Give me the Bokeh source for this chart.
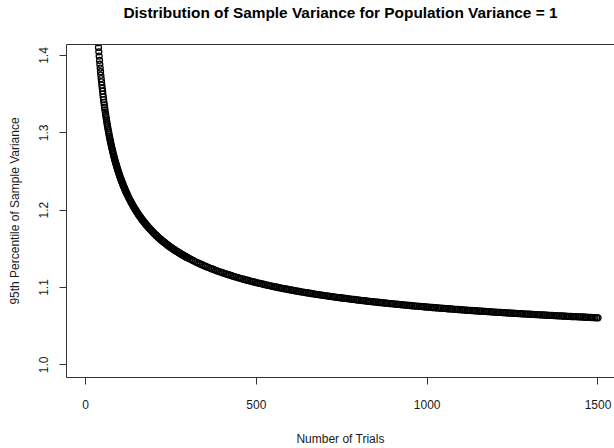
from bokeh.plotting import figure
from bokeh.models import (Range1d, FixedTicker, LinearAxis, Title,
                          BasicTickFormatter, NumeralTickFormatter, ColumnDataSource)
from bokeh.embed import file_html
from bokeh.resources import INLINE

# ---- data ----
# trials 36..120 (every trial), 95th percentile of sample variance
steep_trials = list(range(36, 121))
steep_p95 = [
    1.4227, 1.4165, 1.4105, 1.4047, 1.3992, 1.3938, 1.3887, 1.3838, 1.3790, 1.3745,
    1.3700, 1.3658, 1.3616, 1.3576, 1.3538, 1.3500, 1.3464, 1.3429, 1.3394, 1.3361,
    1.3329, 1.3297, 1.3267, 1.3237, 1.3208, 1.3180, 1.3152, 1.3125, 1.3099, 1.3074,
    1.3049, 1.3025, 1.3001, 1.2978, 1.2955, 1.2933, 1.2911, 1.2890, 1.2869, 1.2848,
    1.2829, 1.2809, 1.2790, 1.2771, 1.2753, 1.2735, 1.2717, 1.2700, 1.2682, 1.2666,
    1.2649, 1.2633, 1.2617, 1.2602, 1.2586, 1.2571, 1.2557, 1.2542, 1.2528, 1.2514,
    1.2500, 1.2486, 1.2473, 1.2460, 1.2447, 1.2434, 1.2421, 1.2409, 1.2397, 1.2385,
    1.2373, 1.2361, 1.2350, 1.2338, 1.2327, 1.2316, 1.2305, 1.2295, 1.2284, 1.2274,
    1.2263, 1.2253, 1.2243, 1.2233, 1.2223,
]
# trials 121..299 (every second trial)
mid_trials = list(range(121, 300, 2))
mid_p95 = [
    1.2214, 1.2195, 1.2176, 1.2158, 1.2141, 1.2124, 1.2107, 1.2091, 1.2075, 1.2059,
    1.2044, 1.2029, 1.2014, 1.2000, 1.1986, 1.1972, 1.1958, 1.1945, 1.1932, 1.1920,
    1.1907, 1.1895, 1.1883, 1.1871, 1.1860, 1.1848, 1.1837, 1.1826, 1.1816, 1.1805,
    1.1795, 1.1784, 1.1774, 1.1765, 1.1755, 1.1745, 1.1736, 1.1727, 1.1717, 1.1709,
    1.1700, 1.1691, 1.1682, 1.1674, 1.1666, 1.1657, 1.1649, 1.1641, 1.1634, 1.1626,
    1.1618, 1.1611, 1.1603, 1.1596, 1.1589, 1.1582, 1.1575, 1.1568, 1.1561, 1.1554,
    1.1547, 1.1541, 1.1534, 1.1528, 1.1522, 1.1515, 1.1509, 1.1503, 1.1497, 1.1491,
    1.1485, 1.1479, 1.1473, 1.1468, 1.1462, 1.1457, 1.1451, 1.1446, 1.1440, 1.1435,
    1.1430, 1.1424, 1.1419, 1.1414, 1.1409, 1.1404, 1.1399, 1.1394, 1.1389, 1.1385,
]
# trials 301..1496 (every fifth trial) and 1500
tail_trials = list(range(301, 1497, 5)) + [1500]
tail_p95 = [
    1.1380, 1.1368, 1.1357, 1.1346, 1.1335, 1.1324, 1.1314, 1.1304, 1.1294, 1.1284,
    1.1275, 1.1266, 1.1257, 1.1248, 1.1239, 1.1231, 1.1222, 1.1214, 1.1206, 1.1199,
    1.1191, 1.1183, 1.1176, 1.1169, 1.1162, 1.1155, 1.1148, 1.1141, 1.1134, 1.1128,
    1.1121, 1.1115, 1.1109, 1.1103, 1.1097, 1.1091, 1.1085, 1.1079, 1.1074, 1.1068,
    1.1063, 1.1057, 1.1052, 1.1047, 1.1042, 1.1036, 1.1031, 1.1027, 1.1022, 1.1017,
    1.1012, 1.1007, 1.1003, 1.0998, 1.0994, 1.0989, 1.0985, 1.0981, 1.0977, 1.0972,
    1.0968, 1.0964, 1.0960, 1.0956, 1.0952, 1.0948, 1.0944, 1.0941, 1.0937, 1.0933,
    1.0930, 1.0926, 1.0922, 1.0919, 1.0915, 1.0912, 1.0908, 1.0905, 1.0902, 1.0898,
    1.0895, 1.0892, 1.0889, 1.0886, 1.0882, 1.0879, 1.0876, 1.0873, 1.0870, 1.0867,
    1.0864, 1.0861, 1.0859, 1.0856, 1.0853, 1.0850, 1.0847, 1.0845, 1.0842, 1.0839,
    1.0836, 1.0834, 1.0831, 1.0829, 1.0826, 1.0823, 1.0821, 1.0818, 1.0816, 1.0813,
    1.0811, 1.0809, 1.0806, 1.0804, 1.0802, 1.0799, 1.0797, 1.0795, 1.0792, 1.0790,
    1.0788, 1.0786, 1.0783, 1.0781, 1.0779, 1.0777, 1.0775, 1.0773, 1.0771, 1.0769,
    1.0767, 1.0764, 1.0762, 1.0760, 1.0758, 1.0756, 1.0755, 1.0753, 1.0751, 1.0749,
    1.0747, 1.0745, 1.0743, 1.0741, 1.0739, 1.0738, 1.0736, 1.0734, 1.0732, 1.0730,
    1.0729, 1.0727, 1.0725, 1.0723, 1.0722, 1.0720, 1.0718, 1.0717, 1.0715, 1.0713,
    1.0712, 1.0710, 1.0708, 1.0707, 1.0705, 1.0704, 1.0702, 1.0700, 1.0699, 1.0697,
    1.0696, 1.0694, 1.0693, 1.0691, 1.0690, 1.0688, 1.0687, 1.0685, 1.0684, 1.0682,
    1.0681, 1.0679, 1.0678, 1.0677, 1.0675, 1.0674, 1.0672, 1.0671, 1.0670, 1.0668,
    1.0667, 1.0666, 1.0664, 1.0663, 1.0662, 1.0660, 1.0659, 1.0658, 1.0656, 1.0655,
    1.0654, 1.0653, 1.0651, 1.0650, 1.0649, 1.0648, 1.0646, 1.0645, 1.0644, 1.0643,
    1.0641, 1.0640, 1.0639, 1.0638, 1.0637, 1.0636, 1.0634, 1.0633, 1.0632, 1.0631,
    1.0630, 1.0629, 1.0627, 1.0626, 1.0625, 1.0624, 1.0623, 1.0622, 1.0621, 1.0620,
    1.0619, 1.0618, 1.0617, 1.0615, 1.0614, 1.0613, 1.0612, 1.0611, 1.0610, 1.0609,
    1.0608,
]

x_ticks = [0, 500, 1000, 1500]
y_ticks = [1.0, 1.1, 1.2, 1.3, 1.4]

title_text = "Distribution of Sample Variance for Population Variance = 1"
x_label = "Number of Trials"
y_label = "95th Percentile of Sample Variance"

assert len(steep_trials) == len(steep_p95)
assert len(mid_trials) == len(mid_p95)
assert len(tail_trials) == len(tail_p95)

FONT = "Liberation Sans"
INK = "#1a1a1a"
LINE = "#333333"
FRAME_W, FRAME_H = 548, 333

src = ColumnDataSource(dict(
    trials=steep_trials + mid_trials + tail_trials,
    p95=steep_p95 + mid_p95 + tail_p95,
))

p = figure(
    frame_width=FRAME_W, frame_height=FRAME_H,
    x_range=Range1d(-55.6, 1548.3), y_range=Range1d(0.98358, 1.41423),
    output_backend="svg", toolbar_location=None, title=None,
    min_border_left=66, min_border_right=0, min_border_top=44, min_border_bottom=71,
    background_fill_color="white", border_fill_color="white",
)
p.outline_line_color = None
p.xgrid.grid_line_color = None
p.ygrid.grid_line_color = None

p.scatter(x="trials", y="p95", source=src, marker="circle", size=6,
          fill_color=None, line_color="black", line_width=1.3)

# bottom axis
xa = p.xaxis[0]
xa.ticker = FixedTicker(ticks=x_ticks)
xa.formatter = BasicTickFormatter(precision=0)
xa.axis_label = x_label
xa.axis_line_color = LINE
xa.major_tick_line_color = LINE
xa.major_tick_out = 7
xa.major_tick_in = 0
xa.minor_tick_line_color = None
xa.major_label_standoff = 15
xa.major_label_text_font = FONT
xa.major_label_text_font_size = "12px"
xa.major_label_text_color = INK
xa.axis_label_standoff = 20
xa.axis_label_text_font = FONT
xa.axis_label_text_font_size = "12px"
xa.axis_label_text_font_style = "normal"
xa.axis_label_text_color = INK

# left axis
ya = p.yaxis[0]
ya.ticker = FixedTicker(ticks=y_ticks)
ya.formatter = NumeralTickFormatter(format="0.0")
ya.axis_label = y_label
ya.axis_line_color = LINE
ya.major_tick_line_color = LINE
ya.major_tick_out = 7
ya.major_tick_in = 0
ya.minor_tick_line_color = None
ya.major_label_orientation = "vertical"
ya.major_label_standoff = 11
ya.major_label_text_font = FONT
ya.major_label_text_font_size = "12px"
ya.major_label_text_color = INK
ya.axis_label_standoff = 15
ya.axis_label_text_font = FONT
ya.axis_label_text_font_size = "12px"
ya.axis_label_text_font_style = "normal"
ya.axis_label_text_color = INK

# top border of the box: an axis without ticks; a blank axis label
# reserves the gap between the box and the title
top = LinearAxis(ticker=FixedTicker(ticks=[]), axis_line_color=LINE,
                 major_tick_line_color=None, minor_tick_line_color=None,
                 major_tick_out=0, minor_tick_out=0, major_tick_in=0,
                 major_label_standoff=0, major_label_text_font_size="0px",
                 axis_label=" ", axis_label_text_font=FONT,
                 axis_label_text_font_size="12px", axis_label_standoff=7)
p.add_layout(top, "above")

p.add_layout(Title(text=title_text, align="center", text_font=FONT,
                   text_font_size="15.4px", text_font_style="bold",
                   text_color="black", standoff=0), "above")

open("out.html", "w").write(file_html(p, INLINE))
